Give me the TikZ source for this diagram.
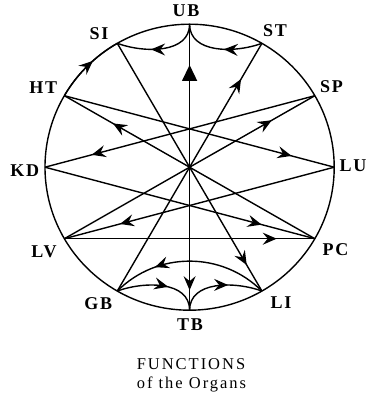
\documentclass[tikz,border=0pt]{standalone}
\usepackage{fontspec}
\setmainfont{Liberation Serif}
\newfontfamily\lblfont[LetterSpace=10]{Liberation Serif}
\newfontfamily\ttlfont[LetterSpace=12]{Liberation Serif}
\usetikzlibrary{arrows.meta,decorations.markings}
\tikzset{
  base/.style={line width=1.4pt},
  arr/.style={postaction={decorate},decoration={markings,mark=at position #1 with {\arrow{Stealth[length=14pt,width=12pt,inset=5pt]}}}},
  tri/.style={postaction={decorate},decoration={markings,mark=at position #1 with {\arrow{Triangle[length=16pt,width=15pt]}}}},
  lbl/.style={font={\lblfont\bfseries\fontsize{18pt}{20pt}\selectfont},inner sep=0pt},
  ttl/.style={font={\ttlfont\fontsize{16.5pt}{18pt}\selectfont},inner sep=0pt,anchor=base},
}
\begin{document}
\begin{tikzpicture}[x=1pt,y=1pt]
\useasboundingbox (0,0) rectangle (367,398);
\def\cx{189.6}\def\cy{230.8}\def\rx{144.6}\def\ry{143}
\coordinate (C) at (\cx,\cy);
\foreach \n/\a in {UB/90,ST/60,SP/30,LU/0,PC/-30,LI/-60,TB/-90,GB/-120,LV/-150,KD/180,HT/150,SI/120}
  \coordinate (\n) at ({\cx+\rx*cos(\a)},{\cy+\ry*sin(\a)});
\draw[base] (C) ellipse[x radius=\rx, y radius=\ry];
% diameters and chords
\draw[base,tri=0.715] (C) -- (UB);
\draw[base,arr=0.86] (C) -- (TB);
\draw[base,arr=0.856] (GB) -- (ST);
\draw[base,arr=0.895] (SI) -- (LI);
\draw[base,arr=0.806] (PC) -- (HT);
\draw[base,arr=0.828] (LV) -- (SP);
\draw[base,arr=0.842] (HT) -- (LU);
\draw[base,arr=0.827] (SP) -- (KD);
\draw[base,arr=0.803] (KD) -- (PC);
\draw[base,arr=0.794] (LU) -- (LV);
\draw[base,arr=0.848] (LV) -- (PC);
\fill (C) circle[radius=1.6pt];
% arc along circle
\draw[base,arr=0.6] (HT) arc[start angle=150,end angle=120,x radius=\rx,y radius=\ry];
% curves
\draw[base,arr=0.45] (ST) to[out=200,in=-90] (UB);
\draw[base,arr=0.6] (UB) to[out=-90,in=-20] (SI);
\draw[base,arr=0.6] (GB) to[out=20,in=90] (TB);
\draw[base,arr=0.6] (TB) to[out=90,in=160] (LI);
\draw[base,arr=0.72] (LI) to[bend right=45] (GB);
% labels
\node[lbl] (lUB) at (186,387) {UB};
\node[lbl] (lST) at (275,367) {ST};
\node[lbl] (lSP) at (331.5,311.5) {SP};
\node[lbl] (lLU) at (353,232) {LU};
\node[lbl] (lPC) at (335.5,148.5) {PC};
\node[lbl] (lLI) at (281,95) {LI};
\node[lbl] (lTB) at (190,73) {TB};
\node[lbl] (lGB) at (98.3,94) {GB};
\node[lbl] (lLV) at (44,146) {LV};
\node[lbl] (lKD) at (24.7,227.5) {KD};
\node[lbl] (lHT) at (43.3,310.5) {HT};
\node[lbl] (lSI) at (99,364) {SI};
\node[ttl] (t1) at (191,28) {FUNCTIONS};
\node[ttl] (t2) at (191.5,9.5) {of the Organs};
\end{tikzpicture}
\end{document}
